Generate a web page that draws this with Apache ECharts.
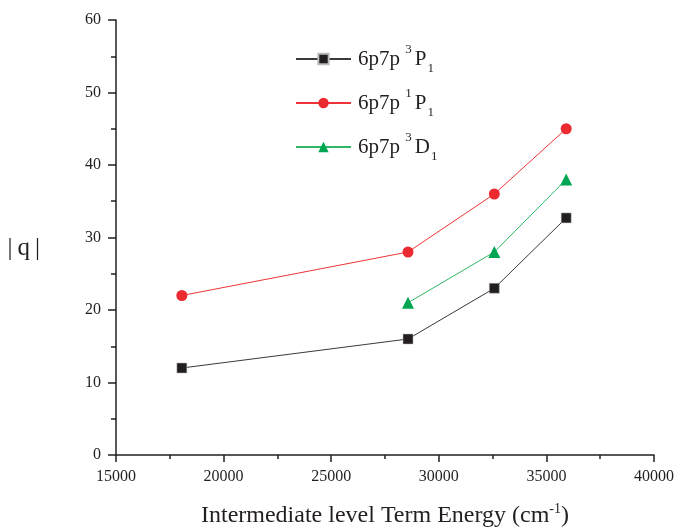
<!DOCTYPE html>
<html>
<head>
<meta charset="utf-8">
<script src="https://cdn.jsdelivr.net/npm/echarts@6/dist/echarts.min.js"></script>
<style>
  html, body { margin: 0; padding: 0; background: #fff; }
  #chart { width: 676px; height: 528px; }
</style>
</head>
<body>
<div id="chart"></div>
<script>
// Term energies of intermediate levels (cm^-1) and |q| values
const energy3P1 = [18060, 28570, 32580, 35920];
const q3P1 = [12, 16, 23, 32.7];

const energy1P1 = [18060, 28570, 32580, 35920];
const q1P1 = [22, 28, 36, 45];

const energy3D1 = [28570, 32580, 35920];
const q3D1 = [21, 28, 38];

const seriesNames = ['3P1', '1P1', '3D1'];
const legendLabels = {
  '3P1': '{a|6p7p }{sup|3}{a|P}{sub|1}',
  '1P1': '{a|6p7p }{sup|1}{a|P}{sub|1}',
  '3D1': '{a|6p7p }{sup|3}{a|D}{sub|1}'
};

const serif = '"Liberation Serif", "DejaVu Serif", serif';
const ink = '#231f20';

const pairs = (xs, ys) => xs.map((x, i) => [x, ys[i]]);
const plain = v => String(v);

const chart = echarts.init(document.getElementById('chart'), null, { renderer: 'canvas' });

chart.setOption({
  animation: false,
  backgroundColor: '#ffffff',
  grid: { left: 116, right: 22, top: 20, bottom: 73, outerBoundsMode: 'none', containLabel: false },
  legend: {
    orient: 'vertical',
    left: 290,
    top: 38,
    itemWidth: 55,
    itemHeight: 13,
    itemGap: 12,
    data: seriesNames,
    formatter: name => legendLabels[name],
    textStyle: {
      fontFamily: serif,
      color: ink,
      rich: {
        a: { fontFamily: serif, fontSize: 21, color: ink, lineHeight: 32, verticalAlign: 'middle', padding: [0, 0, 0, 2] },
        sup: { fontFamily: serif, fontSize: 13, color: ink, lineHeight: 32, verticalAlign: 'top', padding: [0, 1, 0, 0] },
        sub: { fontFamily: serif, fontSize: 13, color: ink, lineHeight: 32, verticalAlign: 'bottom', padding: [0, 0, 0, 1] }
      }
    }
  },
  xAxis: {
    type: 'value',
    min: 15000,
    max: 40000,
    interval: 5000,
    name: '{a|Intermediate level Term Energy (cm}{sup|-1}{a|)}',
    nameLocation: 'middle',
    nameGap: 47,
    nameTextStyle: {
      rich: {
        a: { fontFamily: serif, fontSize: 24, color: ink, lineHeight: 28, verticalAlign: 'middle' },
        sup: { fontFamily: serif, fontSize: 14, color: ink, lineHeight: 28, verticalAlign: 'top' }
      }
    },
    axisLine: { show: true, lineStyle: { color: ink, width: 1.5 } },
    axisTick: { show: true, inside: false, length: 7, lineStyle: { color: ink, width: 1.5 } },
    minorTick: { show: true, splitNumber: 2, length: 4, lineStyle: { color: ink, width: 1.5 } },
    axisLabel: { fontFamily: serif, fontSize: 16, color: ink, margin: 14, formatter: plain },
    splitLine: { show: false }
  },
  yAxis: {
    type: 'value',
    min: 0,
    max: 60,
    interval: 10,
    name: '|\u2009q\u2009|',
    nameLocation: 'middle',
    nameRotate: 0,
    nameGap: 76,
    nameTextStyle: { fontFamily: serif, fontSize: 25, color: ink, verticalAlign: 'top', lineHeight: 22 },
    axisLine: { show: true, lineStyle: { color: ink, width: 1.5 } },
    axisTick: { show: true, inside: false, length: 8, lineStyle: { color: ink, width: 1.5 } },
    minorTick: { show: true, splitNumber: 2, length: 5, lineStyle: { color: ink, width: 1.5 } },
    axisLabel: { fontFamily: serif, fontSize: 16, color: ink, margin: 15, formatter: plain },
    splitLine: { show: false }
  },
  series: [
    {
      name: '3P1',
      type: 'line',
      data: pairs(energy3P1, q3P1),
      symbol: 'rect',
      symbolSize: 10,
      lineStyle: { color: '#3a3a3a', width: 1 },
      itemStyle: { color: ink, borderColor: '#bbbbbb', borderWidth: 0.5 }
    },
    {
      name: '1P1',
      type: 'line',
      data: pairs(energy1P1, q1P1),
      symbol: 'circle',
      symbolSize: 11,
      lineStyle: { color: '#ee3338', width: 1 },
      itemStyle: { color: '#ec2b30' }
    },
    {
      name: '3D1',
      type: 'line',
      data: pairs(energy3D1, q3D1),
      symbol: 'triangle',
      symbolSize: 12,
      lineStyle: { color: '#2fb866', width: 1 },
      itemStyle: { color: '#00a651' }
    }
  ]
});
</script>
</body>
</html>
